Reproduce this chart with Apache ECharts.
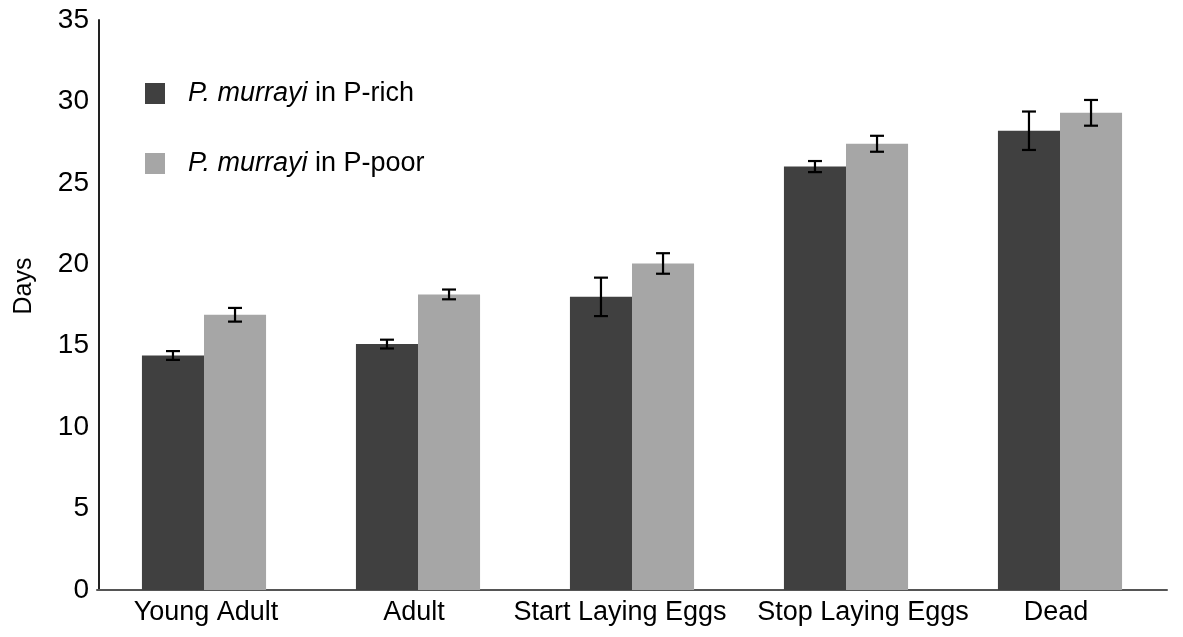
<!DOCTYPE html>
<html>
<head>
<meta charset="utf-8">
<script src="https://cdn.jsdelivr.net/npm/echarts@6/dist/echarts.min.js"></script>
<style>
html,body{margin:0;padding:0;background:#fff;}
#chart{width:1183px;height:637px;}
</style>
</head>
<body>
<div id="chart"></div>
<script>
var categories = ['Young Adult', 'Adult', 'Start Laying Eggs', 'Stop Laying Eggs', 'Dead'];
var richValues = [14.4, 15.1, 18.0, 26.0, 28.2];
var richErrors = [0.27, 0.27, 1.18, 0.34, 1.18];
var poorValues = [16.9, 18.15, 20.05, 27.4, 29.3];
var poorErrors = [0.42, 0.3, 0.63, 0.49, 0.79];
var yTicks = [0, 5, 10, 15, 20, 25, 30, 35];

var FONT = 'Liberation Sans, Arial, Helvetica, sans-serif';
var CAT_GAP = 0.42;
// small horizontal nudges of category labels (px, + = right)
var labelShift = [2, -4, -12, 17, -4];

function errorSeries(name, values, errors, side) {
  return {
    type: 'custom',
    name: name + ' err',
    z: 10,
    data: values.map(function (v, i) { return [i, v - errors[i], v + errors[i]]; }),
    renderItem: function (params, api) {
      var band = api.size([1, 0])[0];
      var barW = band * (1 - CAT_GAP) / 2;
      var lo = api.coord([api.value(0), api.value(1)]);
      var hi = api.coord([api.value(0), api.value(2)]);
      var x = lo[0] + side * barW / 2;
      var cap = 7;
      var st = { stroke: '#000', lineWidth: 2.2 };
      return {
        type: 'group',
        children: [
          { type: 'line', shape: { x1: x, y1: lo[1], x2: x, y2: hi[1] }, style: st },
          { type: 'line', shape: { x1: x - cap, y1: lo[1], x2: x + cap, y2: lo[1] }, style: st },
          { type: 'line', shape: { x1: x - cap, y1: hi[1], x2: x + cap, y2: hi[1] }, style: st }
        ]
      };
    }
  };
}

var xData = categories.map(function (c, i) {
  var s = labelShift[i];
  return { value: c, textStyle: { padding: s >= 0 ? [0, 0, 0, 2 * s] : [0, -2 * s, 0, 0] } };
});

var chart = echarts.init(document.getElementById('chart'));
chart.setOption({
  animation: false,
  backgroundColor: '#fff',
  textStyle: { fontFamily: FONT },
  grid: { left: 97, top: 20, bottom: 47, width: 1070 },
  legend: {
    orient: 'vertical',
    left: 145,
    top: 80,
    padding: 0,
    icon: 'rect',
    itemWidth: 20,
    itemHeight: 21,
    itemGap: 43,
    data: ['P-rich', 'P-poor'],
    formatter: function (n) { return '{i|P. murrayi} in ' + n; },
    textStyle: {
      fontSize: 27, color: '#000', fontFamily: FONT, padding: [0, 0, 0, 18],
      rich: { i: { fontStyle: 'italic', fontSize: 27, color: '#000', fontFamily: FONT } }
    }
  },
  xAxis: {
    type: 'category',
    data: xData,
    axisTick: { show: false },
    axisLine: { lineStyle: { color: '#555', width: 2 } },
    axisLabel: { color: '#000', fontSize: 27, margin: 9, fontFamily: FONT, interval: 0 }
  },
  yAxis: {
    type: 'value',
    min: 0, max: 35, interval: 5,
    offset: -2,
    name: 'Days',
    nameLocation: 'middle',
    nameGap: 62,
    nameTextStyle: { fontSize: 25, color: '#000', fontFamily: FONT, padding: [0, 0, 0, 38] },
    splitLine: { show: false },
    axisTick: { show: false },
    axisLine: { show: true, lineStyle: { color: '#222', width: 2 } },
    axisLabel: {
      color: '#000', fontSize: 28, margin: 10, fontFamily: FONT,
      formatter: function (v) { return yTicks.indexOf(v) >= 0 ? String(v) : ''; }
    }
  },
  series: [
    { name: 'P-rich', type: 'bar', data: richValues, barGap: '0%', barCategoryGap: (CAT_GAP * 100) + '%',
      itemStyle: { color: '#404040' } },
    { name: 'P-poor', type: 'bar', data: poorValues, barGap: '0%', barCategoryGap: (CAT_GAP * 100) + '%',
      itemStyle: { color: '#a6a6a6' } },
    errorSeries('P-rich', richValues, richErrors, -1),
    errorSeries('P-poor', poorValues, poorErrors, 1)
  ]
});
</script>
</body>
</html>
